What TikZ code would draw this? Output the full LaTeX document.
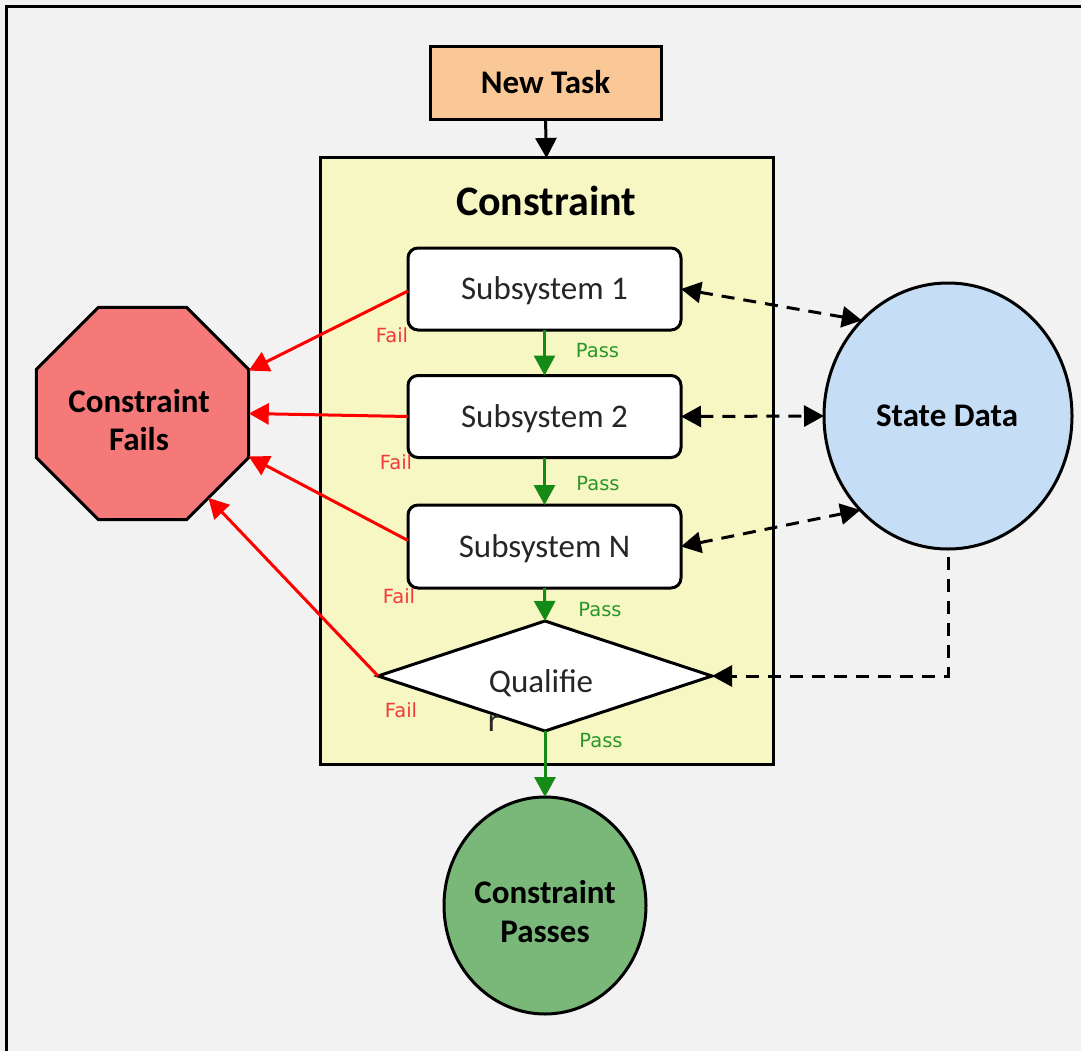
\documentclass[tikz,border=0pt]{standalone}
\usepackage{fontspec}
\setmainfont{Carlito}
\newfontfamily\lblfont{DejaVu Sans}
\usetikzlibrary{shapes.geometric,arrows.meta}
\definecolor{bgc}{HTML}{F2F2F2}
\definecolor{peach}{HTML}{FAC896}
\definecolor{paleyellow}{HTML}{F7F7C4}
\definecolor{failfill}{HTML}{F57979}
\definecolor{statefill}{HTML}{C5DDF5}
\definecolor{passfill}{HTML}{7AB87A}
\definecolor{arrgreen}{HTML}{168A16}
\definecolor{failtxt}{HTML}{F23A3A}
\definecolor{passtxt}{HTML}{2A962A}
\begin{document}
\begin{tikzpicture}[x=1pt,y=-1pt,
  every node/.style={inner sep=0pt, outer sep=0pt},
  shapeline/.style={draw=black, line width=3pt},
  taskbox/.style={shapeline, fill=peach, minimum width=231pt, minimum height=73pt,
    font=\bfseries\fontsize{33}{39}\selectfont, text height=21pt, text depth=0pt},
  contbox/.style={shapeline, fill=paleyellow, minimum width=453pt, minimum height=606pt},
  titletext/.style={font=\bfseries\fontsize{42}{48}\selectfont},
  subbox/.style={shapeline, fill=white, rounded corners=10pt, minimum width=273pt, minimum height=82pt,
    font=\fontsize{33}{39}\selectfont, text=black!85, text height=21pt, text depth=0pt},
  decbox/.style={diamond, shapeline, fill=white, minimum width=334pt, minimum height=110pt},
  octbox/.style={regular polygon, regular polygon sides=8, shapeline, fill=failfill, minimum size=230pt},
  ellbox/.style={ellipse, shapeline},
  boldtext/.style={font=\bfseries\fontsize{33}{38.5}\selectfont, align=center},
  plaintext/.style={font=\fontsize{33}{39}\selectfont, text=black!85},
  blackarr/.style={line width=3pt, draw=black, -{Triangle[length=20pt, width=21pt]}},
  failarr/.style={line width=3pt, draw=red, -{Triangle[length=20pt, width=21pt]}},
  passarr/.style={line width=3pt, draw=arrgreen, -{Triangle[length=20pt, width=21pt]}},
  dasharr/.style={line width=3pt, draw=black, dash pattern=on 13pt off 9pt},
  faillbl/.style={font=\lblfont\fontsize{19.5}{23}\selectfont, text=failtxt},
  passlbl/.style={font=\lblfont\fontsize{19.5}{23}\selectfont, text=passtxt}
]
\useasboundingbox (0,0) rectangle (1081,1051);
\fill[bgc] (0,0) rectangle (1081,1051);
\draw[line width=3pt] (6.5,1051) -- (6.5,6.5) -- (1081,6.5);

% container
\node[contbox] (con) at (546.5,461) {};
\node[titletext] (ttl) at (546,201) {Constraint};

% nodes
\node[taskbox] (nt) at (545.5,83.5) {New Task};
\node[subbox] (s1) at (544.5,289) {Subsystem 1};
\node[subbox] (s2) at (544.5,416.5) {Subsystem 2};
\node[subbox, minimum height=83pt] (sN) at (544.5,546.5) {Subsystem N};
\node[decbox] (q) at (545,676) {};
\node[plaintext, anchor=base] (qt) at (541,692) {Qualifie};
\node[plaintext, anchor=base] (qr) at (493.5,731.5) {r};

\node[octbox] (cf) at (142.5,413.5) {};
\node[boldtext] (cft) at (139,420) {Constraint\\Fails};

\node[ellbox, fill=statefill, minimum width=248pt, minimum height=266pt] (sd) at (948,416) {};
\node[boldtext] (sdt) at (947,416) {State Data};

\node[ellbox, fill=passfill, minimum width=202pt, minimum height=217pt] (cp) at (545,905.5) {};
\node[boldtext] (cpt) at (545,911.5) {Constraint\\Passes};

% connectors
\draw[blackarr] (nt.south) -- (con.north);

\draw[passarr] (s1.south) -- (s2.north);
\draw[passarr] (s2.south) -- (sN.north);
\draw[passarr] (sN.south) -- (q.north);
\draw[passarr] (q.south) -- (cp.north);

\draw[failarr] ([yshift=-2pt]s1.west) -- (cf.22.5);
\draw[failarr] (s2.west) -- (cf.east);
\draw[failarr] ([yshift=6pt]sN.west) -- (cf.-22.5);
\draw[failarr] (q.west) -- (cf.-52);

\draw[dasharr, {Triangle[length=20pt, width=21pt]}-{Triangle[length=20pt, width=21pt]}] (s1.east) -- (sd.132.5);
\draw[dasharr, {Triangle[length=20pt, width=21pt]}-{Triangle[length=20pt, width=21pt]}] (s2.east) -- (sd.west);
\draw[dasharr, {Triangle[length=20pt, width=21pt]}-{Triangle[length=20pt, width=21pt]}] (sN.east) -- (sd.-133);
\draw[dasharr, -{Triangle[length=20pt, width=21pt]}] ([yshift=-8pt]sd.south) |- (q.east);

% labels
\node[faillbl] (f1) at (392,335) {Fail};
\node[faillbl] (f2) at (396,462) {Fail};
\node[faillbl] (f3) at (399,596) {Fail};
\node[faillbl] (f4) at (401,710) {Fail};
\node[passlbl] (p1) at (597.5,351) {Pass};
\node[passlbl] (p2) at (598,484) {Pass};
\node[passlbl] (p3) at (600,610) {Pass};
\node[passlbl] (p4) at (601,741) {Pass};
\end{tikzpicture}
\end{document}
